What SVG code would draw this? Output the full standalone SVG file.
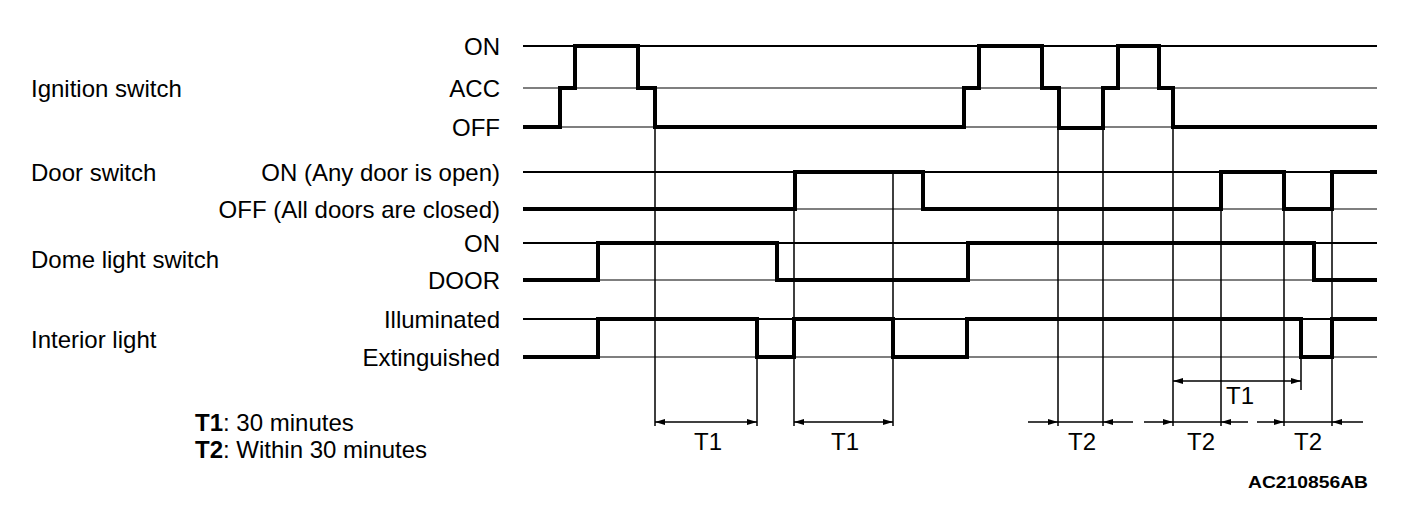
<svg xmlns="http://www.w3.org/2000/svg" width="1408" height="508" viewBox="0 0 1408 508">
<style>
text{font-family:"Liberation Sans",Arial,sans-serif;font-size:24px;fill:#000}
.r{text-anchor:end}
.c{text-anchor:middle}
.grid{stroke:#000;stroke-width:1.2;fill:none}
.gridt{stroke:#000;stroke-width:2;fill:none}
.wave{stroke:#000;stroke-width:4;fill:none;stroke-linejoin:miter;stroke-linecap:butt}
.v{stroke:#000;stroke-width:1.5;fill:none}
.dim{stroke:#000;stroke-width:1.5;fill:none}
</style>
<defs>
<marker id="ah" viewBox="0 0 10 6" refX="10" refY="3" markerWidth="10" markerHeight="6" markerUnits="userSpaceOnUse" orient="auto-start-reverse"><path d="M0,0 L10,3 L0,6 z" fill="#000"/></marker>
</defs>
<rect width="1408" height="508" fill="#fff"/>

<g id="ignition">
<text x="31" y="97">Ignition switch</text>
<text class="r" x="500" y="55">ON</text>
<text class="r" x="500" y="97">ACC</text>
<text class="r" x="500" y="136">OFF</text>
<path class="gridt" d="M523,46 H1377"/>
<path class="grid" d="M523,88 H1377 M523,127 H1377"/>
<path class="wave" d="M523,127 H560 V88 H575 V46 H638 V88 H655 V127 H964 V88 H979 V46 H1042 V88 H1059 V128 H1103 V88 H1118 V46 H1159 V88 H1173 V127 H1377"/>
</g>

<g id="door">
<text x="31" y="181">Door switch</text>
<text class="r" x="500" y="181">ON (Any door is open)</text>
<text class="r" x="500" y="218">OFF (All doors are closed)</text>
<path class="gridt" d="M523,172 H1377"/>
<path class="grid" d="M523,209 H1377"/>
<path class="wave" d="M523,209 H795 V172 H923 V209 H1221 V172 H1284 V209 H1332 V172 H1377"/>
</g>

<g id="dome">
<text x="31" y="268">Dome light switch</text>
<text class="r" x="500" y="252">ON</text>
<text class="r" x="500" y="289">DOOR</text>
<path class="gridt" d="M523,243 H1377"/>
<path class="grid" d="M523,280 H1377"/>
<path class="wave" d="M523,280 H598 V243 H777 V280 H968 V243 H1314 V280 H1377"/>
</g>

<g id="interior">
<text x="31" y="348">Interior light</text>
<text class="r" x="500" y="328">Illuminated</text>
<text class="r" x="500" y="366">Extinguished</text>
<path class="gridt" d="M523,319 H1377"/>
<path class="grid" d="M523,357 H1377"/>
<path class="wave" d="M523,357 H598 V319 H757 V357 H794 V319 H893 V357 H967 V319 H1301 V357 H1332 V319 H1377"/>
</g>

<g id="connectors">
<path class="v" d="M655,127 V426 M757,357 V426 M794,172 V426 M893,172 V426 M1058,127 V426 M1103,127 V426 M1173,127 V426 M1221,172 V426 M1284,172 V426 M1332,172 V426 M1301,357 V390"/>
<path class="dim" d="M655,422 H757" marker-start="url(#ah)" marker-end="url(#ah)"/>
<path class="dim" d="M794,422 H893" marker-start="url(#ah)" marker-end="url(#ah)"/>
<path class="dim" d="M1173,381 H1301" marker-start="url(#ah)" marker-end="url(#ah)"/>
<path class="dim" d="M1028,422 H1058" marker-end="url(#ah)"/>
<path class="dim" d="M1133,422 H1103" marker-end="url(#ah)"/>
<path class="dim" d="M1058,422 H1103"/>
<path class="dim" d="M1144,422 H1173" marker-end="url(#ah)"/>
<path class="dim" d="M1248,422 H1221" marker-end="url(#ah)"/>
<path class="dim" d="M1173,422 H1221"/>
<path class="dim" d="M1257,422 H1284" marker-end="url(#ah)"/>
<path class="dim" d="M1363,422 H1332" marker-end="url(#ah)"/>
<path class="dim" d="M1284,422 H1332"/>
</g>

<g id="dim-labels">
<text class="c" x="708" y="450">T1</text>
<text class="c" x="845" y="450">T1</text>
<text class="c" x="1240" y="404">T1</text>
<text class="c" x="1082" y="450">T2</text>
<text class="c" x="1201" y="450">T2</text>
<text class="c" x="1308" y="450">T2</text>
</g>

<g id="legend">
<text x="195" y="431"><tspan font-weight="bold">T1</tspan>: 30 minutes</text>
<text x="195" y="458"><tspan font-weight="bold">T2</tspan>: Within 30 minutes</text>
<text x="1248" y="488" font-weight="bold" font-size="17" textLength="120" lengthAdjust="spacingAndGlyphs" style="font-size:17px">AC210856AB</text>
</g>
</svg>
